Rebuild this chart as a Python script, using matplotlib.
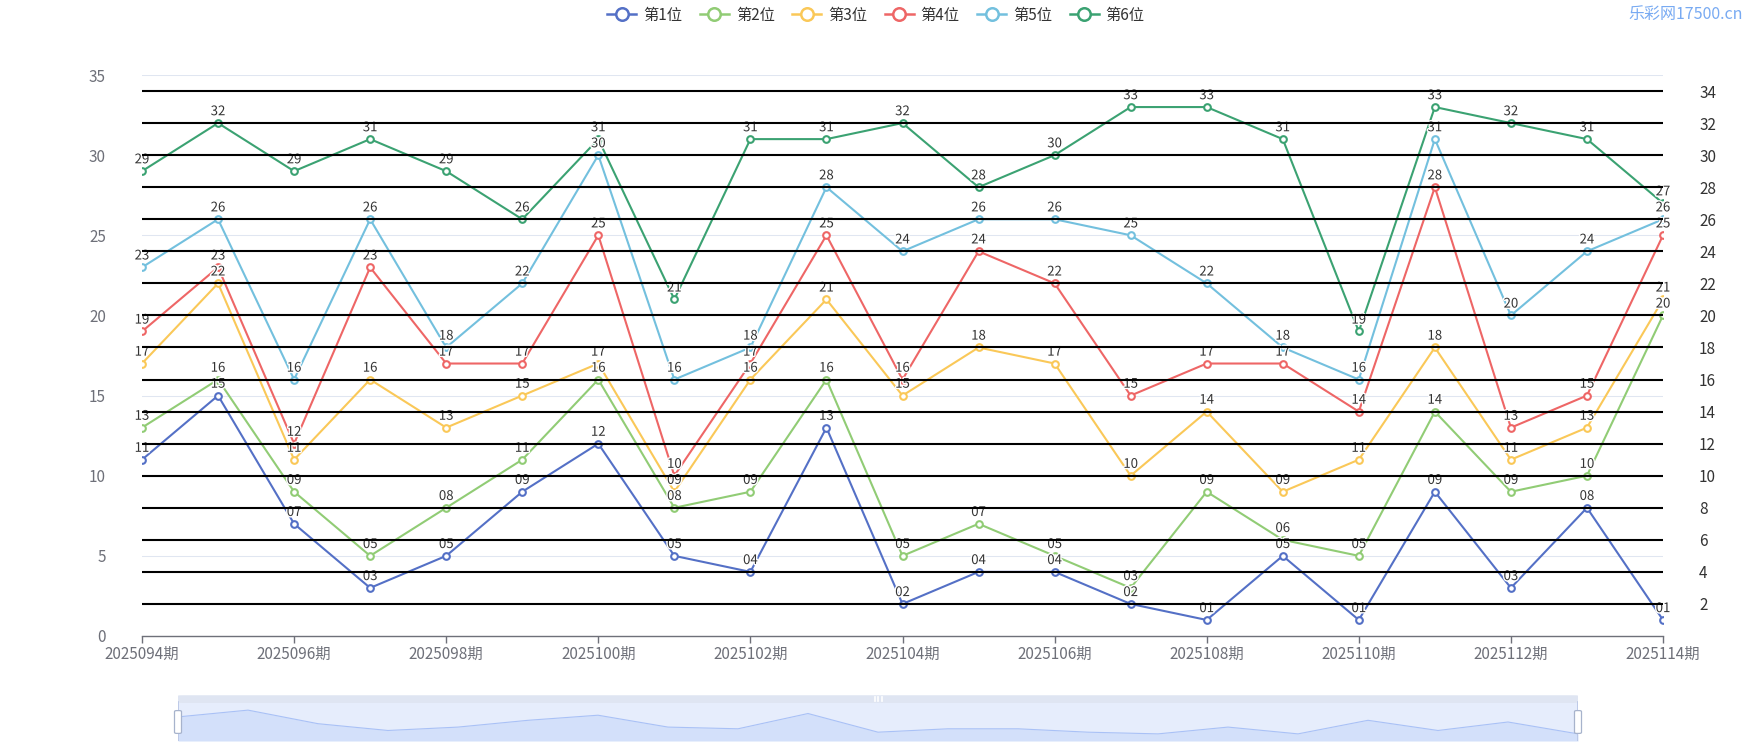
import numpy as np
import matplotlib
matplotlib.use("Agg")
import matplotlib.pyplot as plt
import matplotlib.patheffects as pe
from matplotlib.lines import Line2D
from matplotlib.patches import Rectangle, FancyBboxPatch

plt.rcParams['font.family'] = ['Noto Sans CJK SC', 'DejaVu Sans']

periods = [f"2025{n:03d}期" for n in range(94, 115)]
series_names = ['第1位', '第2位', '第3位', '第4位', '第5位', '第6位']
colors = ['#5470c6', '#91cc75', '#fac858', '#ee6666', '#73c0de', '#3ba272']

pos1 = [11, 15, 7, 3, 5, 9, 12, 5, 4, 13, 2, 4, 4, 2, 1, 5, 1, 9, 3, 8, 1]
pos2 = [13, 16, 9, 5, 8, 11, 16, 8, 9, 16, 5, 7, 5, 3, 9, 6, 5, 14, 9, 10, 20]
pos3 = [17, 22, 11, 16, 13, 15, 17, 9, 16, 21, 15, 18, 17, 10, 14, 9, 11, 18, 11, 13, 21]
pos4 = [19, 23, 12, 23, 17, 17, 25, 10, 17, 25, 16, 24, 22, 15, 17, 17, 14, 28, 13, 15, 25]
pos5 = [23, 26, 16, 26, 18, 22, 30, 16, 18, 28, 24, 26, 26, 25, 22, 18, 16, 31, 20, 24, 26]
pos6 = [29, 32, 29, 31, 29, 26, 31, 21, 31, 31, 32, 28, 30, 33, 33, 31, 19, 33, 32, 31, 27]
all_series = [pos1, pos2, pos3, pos4, pos5, pos6]

left_ticks = list(range(0, 36, 5))
right_ticks = list(range(2, 35, 2))

W, H = 1750, 750
fig = plt.figure(figsize=(W / 100, H / 100), dpi=100)

# main plot area
ax = fig.add_axes([142 / W, 1 - 636 / H, (1663 - 142) / W, (636 - 75) / H])
x = np.arange(len(periods))
ax.set_xlim(0, len(periods) - 1)
ax.set_ylim(0, 35)

for t in left_ticks[1:]:
    ax.axhline(t, color='#E0E6F1', lw=0.75, zorder=1)

for vals, c, name in zip(all_series, colors, series_names):
    ax.plot(x, vals, color=c, lw=1.5, marker='o', ms=4.8, mfc='white',
            mec=c, mew=1.5, zorder=3, label=name)
    for xi, v in zip(x, vals):
        ax.annotate(f"{v:02d}", (xi, v), xytext=(0, 3.5), textcoords='offset points',
                    ha='center', va='bottom', fontsize=9.5, color='#333333', zorder=4,
                    path_effects=[pe.withStroke(linewidth=2, foreground='white')])

# black reference lines of the right axis
for t in right_ticks:
    ax.axhline(t, color='black', lw=1.5, zorder=5)

ax.set_yticks(left_ticks)
ax.tick_params(axis='y', length=0, labelsize=11, labelcolor='#6E7079', pad=26)
ax.set_xticks(x[::2])
ax.set_xticklabels(periods[::2])
ax.tick_params(axis='x', length=5, width=1, color='#6E7079', labelsize=11,
               labelcolor='#6E7079', pad=2)
for s in ['top', 'right', 'left']:
    ax.spines[s].set_visible(False)
ax.spines['bottom'].set_color('#6E7079')
ax.spines['bottom'].set_linewidth(1)

ax2 = ax.twinx()
ax2.set_ylim(0, 35)
ax2.set_yticks(right_ticks)
ax2.tick_params(axis='y', length=0, labelsize=11, labelcolor='#333333', pad=26)
for s in ax2.spines.values():
    s.set_visible(False)

# legend
handles = [Line2D([0], [0], color=c, lw=1.8, marker='o', ms=9, mfc='white', mec=c, mew=1.8)
           for c in colors]
fig.legend(handles, series_names, loc='center', bbox_to_anchor=(876 / W, 1 - 15 / H),
           ncol=6, frameon=False, fontsize=11, handlelength=1.9, handletextpad=0.45,
           columnspacing=1.15, labelcolor='#333333')

fig.text(1743 / W, 1 - 14 / H, '乐彩网17500.cn', ha='right', va='center',
         fontsize=11.5, color='#78aaf2')

# data zoom slider
s_lo = min(pos1)
s_hi = max(pos1)
off = (s_hi - s_lo) * 0.3
body_lo, body_hi = s_lo - off, s_hi + off
strip = (body_hi - body_lo) * 8 / 38
axs = fig.add_axes([178 / W, 1 - 741 / H, (1578 - 178) / W, (741 - 695) / H])
axs.set_xlim(0, len(periods) - 1)
axs.set_ylim(body_lo, body_hi + strip)
axs.axis('off')
axs.add_patch(Rectangle((0, body_lo), len(periods) - 1, body_hi - body_lo,
                        facecolor='#e6edfc', edgecolor='none', zorder=1))
axs.add_patch(FancyBboxPatch((0, body_hi), len(periods) - 1, strip * 0.97,
                             boxstyle='round,pad=0,rounding_size=0.08',
                             facecolor='#dfe5f2', edgecolor='none', zorder=1,
                             mutation_aspect=strip * 0.5))
axs.fill_between(x, body_lo, pos1, color='#d3e0fa', lw=0, zorder=2)
axs.plot(x, pos1, color='#a9c1f6', lw=0.8, zorder=3)
for xe in (0, len(periods) - 1):
    axs.plot([xe, xe], [body_lo, body_hi + strip * 0.1], color='#b7c4e4', lw=1.2, zorder=4)
    axs.add_patch(FancyBboxPatch((xe - 0.05, body_lo + (body_hi - body_lo) * 0.2), 0.1,
                                 (body_hi - body_lo) * 0.6,
                                 boxstyle='round,pad=0,rounding_size=0.03',
                                 facecolor='white', edgecolor='#a7b3cc', lw=0.9,
                                 zorder=5, clip_on=False, mutation_aspect=20))
mid = (len(periods) - 1) / 2
for dx in (-0.05, 0, 0.05):
    axs.plot([mid + dx, mid + dx], [body_hi + strip * 0.3, body_hi + strip * 0.75],
             color='white', lw=1.2, zorder=6)

fig.savefig('out.png', dpi=100, facecolor='white')
